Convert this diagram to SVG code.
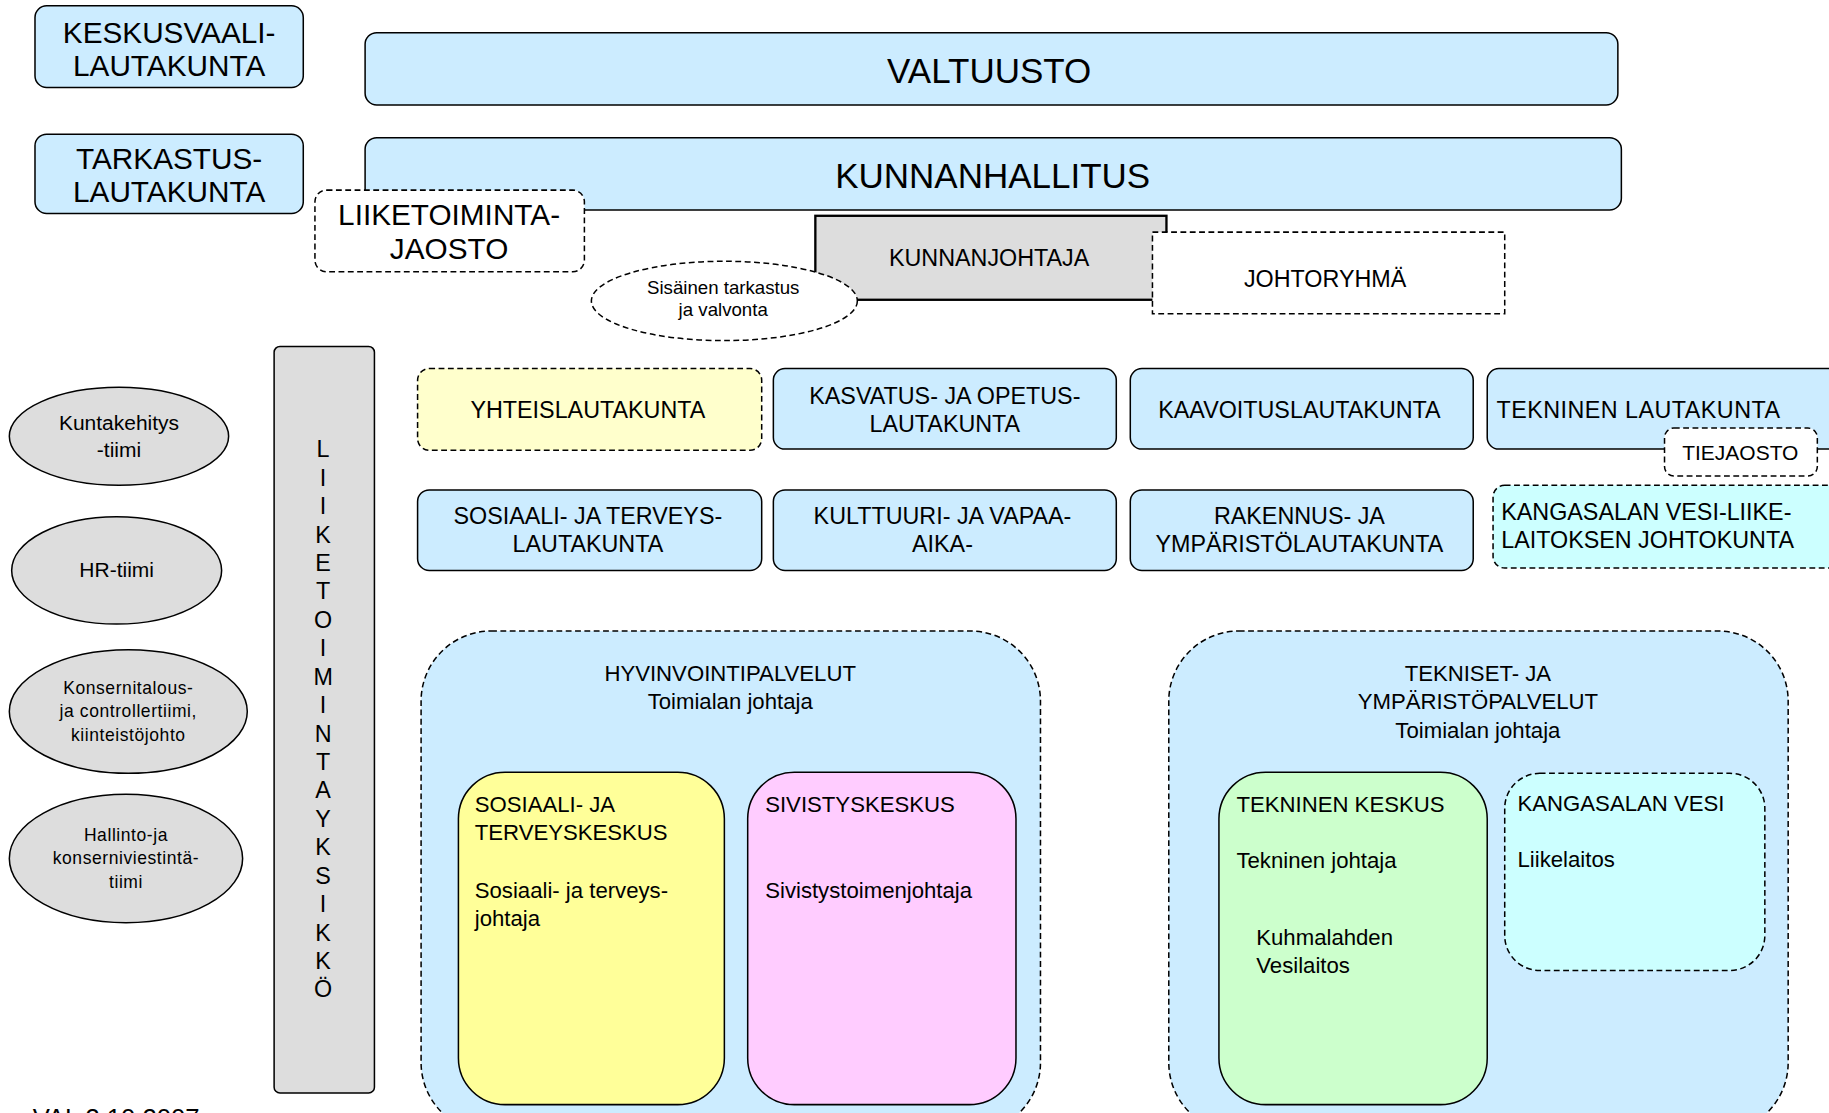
<svg xmlns="http://www.w3.org/2000/svg" width="1829" height="1113" viewBox="0 0 1829 1113">
<style>
text{font-family:"Liberation Sans",Arial,sans-serif;fill:#000}
.c{text-anchor:middle}
.b{fill:#ccecff;stroke:#000;stroke-width:1.3}
.d{stroke:#000;stroke-width:1.3;stroke-dasharray:5 3}
.g{fill:#dddddd;stroke:#000;stroke-width:1.3}
.f30{font-size:30px}.f24{font-size:25.5px}.f20{font-size:20px}.f19{font-size:19px}.f18{font-size:18px}.f16{font-size:16px}.f15{font-size:15px}
</style>
<rect width="1829" height="1113" fill="#fff"/>
<g transform="scale(1.16645)">
<g id="connectors"/>
<g id="keskusvaalilautakunta"><rect class="b" x="30" y="5" width="230" height="70" rx="10"/><text class="c f24" x="145" y="37">KESKUSVAALI-</text><text class="c f24" x="145" y="65">LAUTAKUNTA</text></g>
<g id="tarkastuslautakunta"><rect class="b" x="30" y="115" width="230" height="68" rx="10"/><text class="c f24" x="145" y="145">TARKASTUS-</text><text class="c f24" x="145" y="173">LAUTAKUNTA</text></g>
<g id="valtuusto"><rect class="b" x="313" y="28" width="1074" height="62" rx="10"/><text class="c f30" x="848" y="71">VALTUUSTO</text></g>
<g id="kunnanhallitus"><rect class="b" x="313" y="118" width="1077" height="62" rx="10"/><text class="c f30" x="851" y="161">KUNNANHALLITUS</text></g>
<g id="liiketoimintajaosto"><rect class="d" fill="#fff" x="270" y="163" width="231" height="70" rx="10"/><text class="c f24" x="385" y="193">LIIKETOIMINTA-</text><text class="c f24" x="385" y="222">JAOSTO</text></g>
<g id="kunnanjohtaja"><rect fill="#dddddd" stroke="#000" stroke-width="2" x="699" y="185" width="301" height="72"/><text class="c f20" x="848" y="228">KUNNANJOHTAJA</text></g>
<g id="johtoryhma"><rect class="d" fill="#fff" x="988" y="199" width="302" height="70"/><text class="c f20" x="1136" y="246">JOHTORYHMÄ</text></g>
<g id="sisainen"><ellipse class="d" fill="#fff" cx="621" cy="258" rx="114" ry="34"/><text class="c f16" x="620" y="252">Sisäinen tarkastus</text><text class="c f16" x="620" y="271">ja valvonta</text></g>
<g id="liiketoimintayksikko"><rect class="g" x="235" y="297" width="86" height="640" rx="5"/>
<text class="c f20" x="277"><tspan x="277" y="392">L</tspan><tspan x="277" y="416.4">I</tspan><tspan x="277" y="440.7">I</tspan><tspan x="277" y="465.1">K</tspan><tspan x="277" y="489.5">E</tspan><tspan x="277" y="513.8">T</tspan><tspan x="277" y="538.2">O</tspan><tspan x="277" y="562.6">I</tspan><tspan x="277" y="587">M</tspan><tspan x="277" y="611.3">I</tspan><tspan x="277" y="635.7">N</tspan><tspan x="277" y="660.1">T</tspan><tspan x="277" y="684.4">A</tspan><tspan x="277" y="708.8">Y</tspan><tspan x="277" y="733.2">K</tspan><tspan x="277" y="757.6">S</tspan><tspan x="277" y="781.9">I</tspan><tspan x="277" y="806.3">K</tspan><tspan x="277" y="830.7">K</tspan><tspan x="277" y="855">Ö</tspan></text></g>
<g id="kuntakehitys"><ellipse class="g" cx="102" cy="374" rx="94" ry="42"/><text class="c f18" x="102" y="369">Kuntakehitys</text><text class="c f18" x="102" y="392">-tiimi</text></g>
<g id="hrtiimi"><ellipse class="g" cx="100" cy="489" rx="90" ry="46"/><text class="c f18" x="100" y="495">HR-tiimi</text></g>
<g id="konsernitalous"><ellipse class="g" cx="110" cy="610" rx="102" ry="53"/><text class="c f15" x="110" y="595" letter-spacing="0.5">Konsernitalous-</text><text class="c f15" x="110" y="615" letter-spacing="0.5">ja controllertiimi,</text><text class="c f15" x="110" y="635" letter-spacing="0.5">kiinteistöjohto</text></g>
<g id="hallinto"><ellipse class="g" cx="108" cy="736" rx="100" ry="55"/><text class="c f15" x="108" y="721" letter-spacing="0.5">Hallinto-ja</text><text class="c f15" x="108" y="741" letter-spacing="0.5">konserniviestintä-</text><text class="c f15" x="108" y="761" letter-spacing="0.5">tiimi</text></g>
<g id="yhteislautakunta"><rect class="d" fill="#ffffcc" x="358" y="316" width="295" height="70" rx="10"/><text class="c f20" x="504" y="358">YHTEISLAUTAKUNTA</text></g>
<g id="kasvatus"><rect class="b" x="663" y="316" width="294" height="69" rx="10"/><text class="c f20" x="810" y="346">KASVATUS- JA OPETUS-</text><text class="c f20" x="810" y="370">LAUTAKUNTA</text></g>
<g id="kaavoitus"><rect class="b" x="969" y="316" width="294" height="69" rx="10"/><text class="c f20" x="1114" y="358">KAAVOITUSLAUTAKUNTA</text></g>
<g id="tekninenlautakunta"><rect class="b" x="1275" y="316" width="320" height="69" rx="10"/><text class="f20" x="1283" y="358" letter-spacing="0.4">TEKNINEN LAUTAKUNTA</text></g>
<g id="tiejaosto"><rect class="d" fill="#fff" x="1427" y="367" width="131" height="41" rx="8"/><text class="c f18" x="1492" y="394">TIEJAOSTO</text></g>
<g id="sosiaalilautakunta"><rect class="b" x="358" y="420" width="295" height="69" rx="10"/><text class="c f20" x="504" y="449">SOSIAALI- JA TERVEYS-</text><text class="c f20" x="504" y="473">LAUTAKUNTA</text></g>
<g id="kulttuuri"><rect class="b" x="663" y="420" width="294" height="69" rx="10"/><text class="c f20" x="808" y="449">KULTTUURI-  JA VAPAA-</text><text class="c f20" x="808" y="473">AIKA-</text></g>
<g id="rakennus"><rect class="b" x="969" y="420" width="294" height="69" rx="10"/><text class="c f20" x="1114" y="449">RAKENNUS- JA</text><text class="c f20" x="1114" y="473">YMPÄRISTÖLAUTAKUNTA</text></g>
<g id="vesijohtokunta"><rect class="d" fill="#ccffff" x="1280" y="416" width="320" height="71" rx="10"/><text class="f20" x="1287" y="446">KANGASALAN VESI-LIIKE-</text><text class="f20" x="1287" y="470">LAITOKSEN JOHTOKUNTA</text></g>
<g id="hyvinvointipalvelut"><rect class="d" fill="#ccecff" x="361" y="541" width="531" height="430" rx="60"/><text class="c f19" x="626" y="584">HYVINVOINTIPALVELUT</text><text class="c f19" x="626" y="608">Toimialan johtaja</text></g>
<g id="sosiaalikeskus"><rect fill="#ffff99" stroke="#000" stroke-width="1.3" x="393" y="662" width="228" height="285" rx="40"/><text class="f19" x="407" y="696">SOSIAALI- JA</text><text class="f19" x="407" y="720">TERVEYSKESKUS</text><text class="f19" x="407" y="770">Sosiaali- ja terveys-</text><text class="f19" x="407" y="794">johtaja</text></g>
<g id="sivistyskeskus"><rect fill="#ffccff" stroke="#000" stroke-width="1.3" x="641" y="662" width="230" height="285" rx="40"/><text class="f19" x="656" y="696">SIVISTYSKESKUS</text><text class="f19" x="656" y="770">Sivistystoimenjohtaja</text></g>
<g id="teknisetpalvelut"><rect class="d" fill="#ccecff" x="1002" y="541" width="531" height="430" rx="60"/><text class="c f19" x="1267" y="584">TEKNISET- JA</text><text class="c f19" x="1267" y="608">YMPÄRISTÖPALVELUT</text><text class="c f19" x="1267" y="633">Toimialan johtaja</text></g>
<g id="tekninenkeskus"><rect fill="#ccffcc" stroke="#000" stroke-width="1.3" x="1045" y="662" width="230" height="285" rx="40"/><text class="f19" x="1060" y="696">TEKNINEN KESKUS</text><text class="f19" x="1060" y="744">Tekninen johtaja</text><text class="f19" x="1077" y="810">Kuhmalahden</text><text class="f19" x="1077" y="834">Vesilaitos</text></g>
<g id="kangasalanvesi"><rect class="d" fill="#ccffff" x="1290" y="663" width="223" height="169" rx="30"/><text class="f19" x="1301" y="695">KANGASALAN VESI</text><text class="f19" x="1301" y="743">Liikelaitos</text></g>
<text id="date" x="28" y="966" font-size="22px">VAL 3.10.2007</text>
</g>
</svg>
